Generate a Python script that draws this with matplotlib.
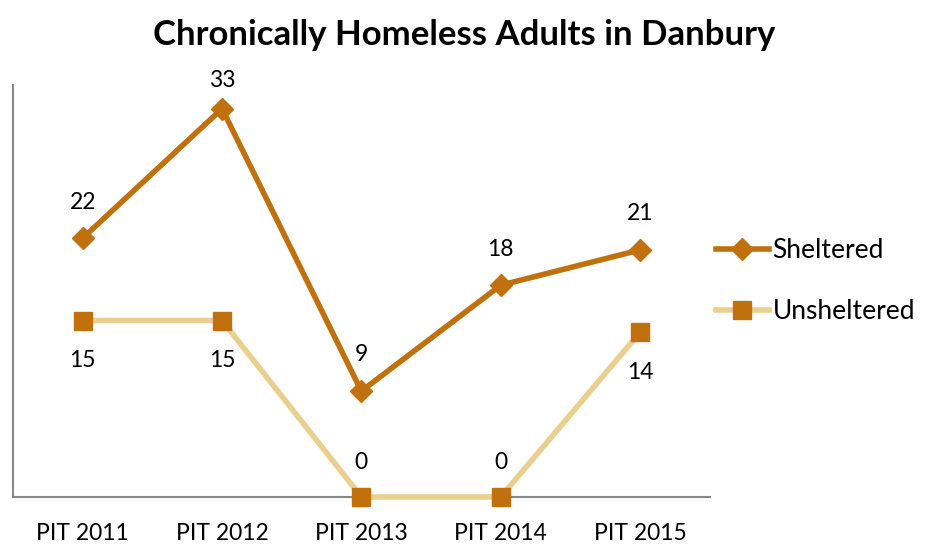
import matplotlib.pyplot as plt

years = ['PIT 2011', 'PIT 2012', 'PIT 2013', 'PIT 2014', 'PIT 2015']
sheltered = [22, 33, 9, 18, 21]
unsheltered = [15, 15, 0, 0, 14]

plt.rcParams['font.family'] = ['Lato', 'DejaVu Sans']

fig = plt.figure(figsize=(9.29, 5.44), dpi=100)
ax = fig.add_axes([0.014, 0.0864, 0.750, 0.757])

x = range(len(years))
ax.plot(x, unsheltered, color='#EBCF8E', lw=4, marker='s', ms=13,
        mfc='#C0700C', mec='#C0700C', label='Unsheltered', zorder=3, clip_on=False)
ax.plot(x, sheltered, color='#C0700C', lw=4, marker='D', ms=11,
        mfc='#C0700C', mec='#C0700C', label='Sheltered', zorder=4, clip_on=False)

for i, v in enumerate(sheltered):
    off = 20 if v == max(sheltered) else 26
    ax.annotate(str(v), (i, v), xytext=(0, off), textcoords='offset points',
                ha='center', va='center', fontsize=16.5)
for i, v in enumerate(unsheltered):
    off = 25 if v == 0 else -29
    ax.annotate(str(v), (i, v), xytext=(0, off), textcoords='offset points',
                ha='center', va='center', fontsize=16.5)

ax.set_xlim(-0.5, len(years) - 0.5)
ax.set_ylim(0, 35)
ax.set_xticks(list(x))
ax.set_xticklabels(years, fontsize=16.5)
ax.tick_params(axis='x', length=0, pad=19)
ax.set_yticks([])
for s in ['top', 'right']:
    ax.spines[s].set_visible(False)
for s in ['left', 'bottom']:
    ax.spines[s].set_color('#888888')
    ax.spines[s].set_linewidth(1.5)

handles, labels = ax.get_legend_handles_labels()
fig.legend(handles[::-1], labels[::-1], loc='center left', bbox_to_anchor=(0.745, 0.483),
           frameon=False, fontsize=19, handlelength=2.0, handletextpad=0.15,
           labelspacing=1.35)

fig.suptitle('Chronically Homeless Adults in Danbury', fontsize=25, fontweight='bold', y=0.965)

fig.savefig('out.png', dpi=100)
